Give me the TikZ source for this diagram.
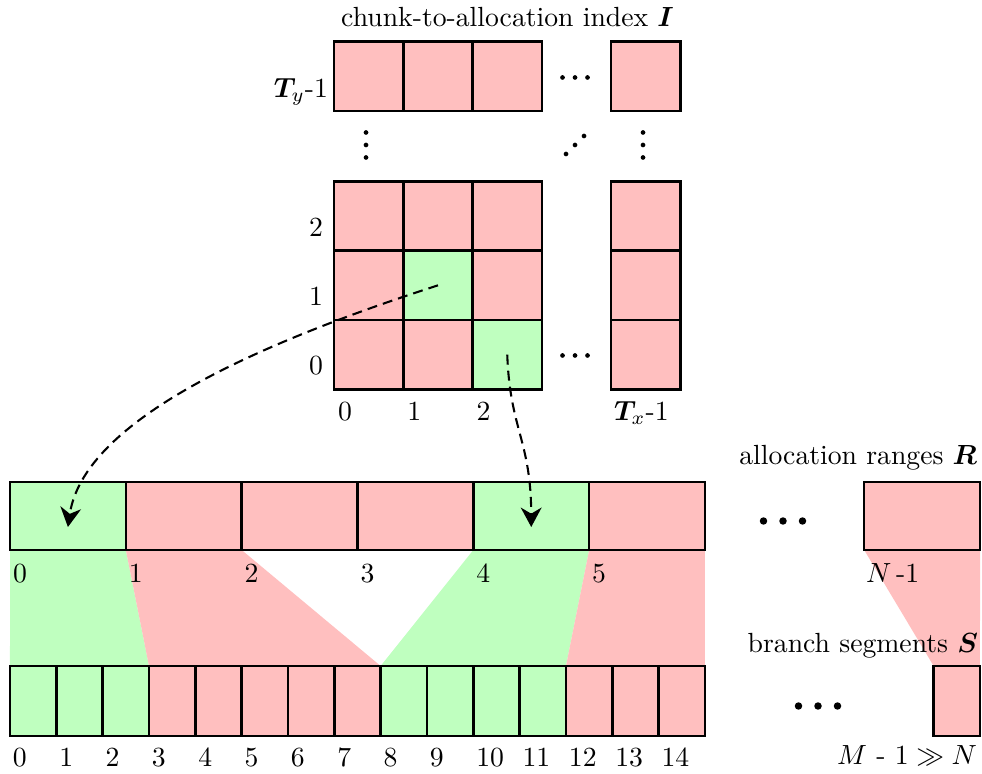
\documentclass[tikz,border=0pt]{standalone}
\usepackage{bm}
\usetikzlibrary{calc,arrows.meta,backgrounds}
\definecolor{segred}{RGB}{255,191,191}
\definecolor{seggreen}{RGB}{191,255,191}
\begin{document}
\begin{tikzpicture}[x=0.361pt,y=-0.361pt,
  box/.style={draw,line width=0.9pt,inner sep=0pt,outer sep=0pt},
  cell/.style={box,minimum width=25.02pt,minimum height=25.02pt},
  rbox/.style={box,minimum width=41.81pt,minimum height=24.55pt},
  sbox/.style={box,minimum width=16.73pt,minimum height=25.27pt},
  lbl/.style={inner sep=0pt,outer sep=0pt},
  smalldot/.style={fill=black},
  conn/.style={line width=0.75pt,dash pattern=on 3.6pt off 2.2pt,
    -{Stealth[length=7pt,width=7.5pt,inset=2.2pt]}}]

\useasboundingbox (0,0) rectangle (982,774);

% chunk-to-allocation index: 3 visible columns + last column, rows 0..2 and top row
\foreach \r/\c/\x/\y/\f in {
  0/0/368.65/354.65/segred, 0/1/437.95/354.65/segred, 0/2/507.25/354.65/seggreen, 0/n/645.65/354.65/segred,
  1/0/368.65/285.35/segred, 1/1/437.95/285.35/seggreen, 1/2/507.25/285.35/segred, 1/n/645.65/285.35/segred,
  2/0/368.65/216.05/segred, 2/1/437.95/216.05/segred, 2/2/507.25/216.05/segred, 2/n/645.65/216.05/segred,
  t/0/368.65/76.2/segred, t/1/437.95/76.2/segred, t/2/507.25/76.2/segred, t/n/645.65/76.2/segred}
  \node[cell,fill=\f] (g\r\c) at (\x,\y) {};

\node[lbl,anchor=base] (tI) at (507.5,27) {chunk-to-allocation index $\bm{I}$};

% row and column indices of the grid
\foreach \r in {0,1,2}
  \node[lbl,anchor=base east] (rl\r) at ($(g\r0.west)+(-11,20)$) {\r};
\node[lbl,anchor=base east] (rlt) at ($(gt0.west)+(-6,21)$) {$\bm{T}_{y}$-1};
\foreach \c in {0,1,2}
  \node[lbl,anchor=base west] (cl\c) at ($(g0\c.south west)+(4,31)$) {\c};
\node[lbl,anchor=base west] (cln) at ($(g0n.south west)+(3,31)$) {$\bm{T}_{x}$-1};

% elided rows and columns of the grid
\foreach \d in {-12.5,0,12.5} {
  \fill[smalldot] (575+\d,77.5) circle[radius=0.85pt];
  \fill[smalldot] (575+\d,355.5) circle[radius=0.85pt];
  \fill[smalldot] (366,145+\d) circle[radius=0.85pt];
  \fill[smalldot] (643,145+\d) circle[radius=0.85pt];
  \fill[smalldot] (575+0.72*\d,145-0.72*\d) circle[radius=0.85pt];
}

% allocation ranges
\foreach \i/\f in {0/seggreen,1/segred,2/segred,3/segred,4/seggreen,5/segred}
  \node[rbox,fill=\f] (r\i) at ({67.92+\i*115.83},516) {};
\node[rbox,fill=segred] (rN) at (922.1,516) {};
\foreach \i in {0,...,5}
  \node[lbl,anchor=base west] (rl\i) at ($(r\i.south west)+(3,33)$) {\i};
\node[lbl,anchor=base west] (rlN) at ($(rN.south west)+(2,33)$) {$N$\,-1};
\node[lbl,anchor=base east] (tR) at (977,465) {allocation ranges $\bm{R}$};

% branch segments
\foreach \i/\f in {0/seggreen,1/seggreen,2/seggreen,3/segred,4/segred,5/segred,6/segred,7/segred,
                   8/seggreen,9/seggreen,10/seggreen,11/seggreen,12/segred,13/segred,14/segred}
  \node[sbox,fill=\f] (s\i) at ({33.17+\i*46.33},701) {};
\node[sbox,fill=segred] (sM) at (956.8,701) {};
\foreach \i in {0,...,14}
  \node[lbl,anchor=base west] (sl\i) at ($(s\i.south west)+(3,30)$) {\i};
\node[lbl,anchor=base east] (tS) at (978,653) {branch segments $\bm{S}$};
\node[lbl,anchor=base east] (tM) at (977,765) {$M$ - $1 \gg N$};

% elided ranges and segments
\foreach \d in {-19.5,0,19.5} {
  \fill[smalldot] (783+\d,521) circle[radius=1.35pt];
  \fill[smalldot] (818+\d,706) circle[radius=1.35pt];
}

% mapping of ranges onto segments
\begin{scope}[on background layer]
  \fill[seggreen] (r0.south west) -- (r0.south east) -- (s2.north east) -- (s0.north west) -- cycle;
  \fill[segred] (r1.south west) -- (r1.south east) -- (s7.north east) -- (s3.north west) -- cycle;
  \fill[seggreen] (r4.south west) -- (r4.south east) -- (s11.north east) -- (s8.north west) -- cycle;
  \fill[segred] (r5.south west) -- (r5.south east) -- (s14.north east) -- (s12.north west) -- cycle;
  \fill[segred] (rN.south west) -- (rN.south east) -- (sM.north east) -- (sM.north west) -- cycle;
\end{scope}

% lookups from the index into the ranges
\coordinate (a0) at ($(r0.center)+(0,11)$);
\coordinate (a4) at ($(r4.center)+(0,11)$);
\draw[conn] (g11.center) .. controls (300,330) and (85,410) .. (a0);
\draw[conn] (g02.center) .. controls (510,430) and (531,440) .. (a4);
\end{tikzpicture}
\end{document}
